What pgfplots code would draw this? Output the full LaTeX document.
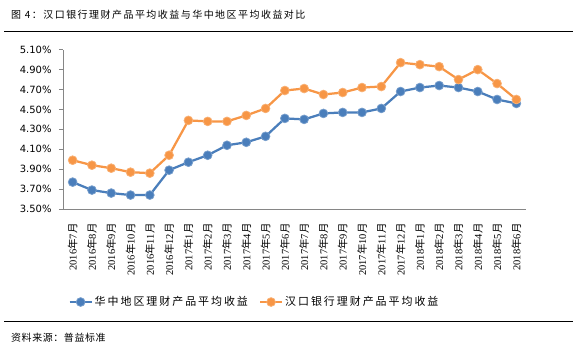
\documentclass[border=0pt]{standalone}
\usepackage{fontspec}
\setmainfont{Liberation Serif}
\newfontfamily\cjk{Noto Sans CJK SC}
\newfontfamily\cjktitle[LetterSpace=15]{Noto Sans CJK SC}
\newfontfamily\cjklegend[LetterSpace=18]{Noto Sans CJK SC}
\newfontfamily\cjksrc[LetterSpace=6]{Noto Sans CJK SC}
\newfontfamily\numfont{DejaVu Sans}
\usepackage{pgfplots}
\pgfplotsset{compat=1.18}
\usepackage{pgfplotstable}
\definecolor{cblue}{HTML}{4A7EBB}
\definecolor{corange}{HTML}{F79646}
\definecolor{axgray}{HTML}{868686}
\newcommand\ym[2]{#1{\cjk 年}#2{\cjk 月}}
\pgfplotstableread{
x hz hk
0  3.77 3.99
1  3.69 3.94
2  3.66 3.91
3  3.64 3.87
4  3.64 3.86
5  3.89 4.04
6  3.97 4.39
7  4.04 4.38
8  4.14 4.38
9  4.17 4.44
10 4.23 4.51
11 4.41 4.69
12 4.40 4.71
13 4.46 4.65
14 4.47 4.67
15 4.47 4.72
16 4.51 4.73
17 4.68 4.97
18 4.72 4.95
19 4.74 4.93
20 4.72 4.80
21 4.68 4.90
22 4.60 4.76
23 4.56 4.60
}\datatable
\begin{document}
\begin{tikzpicture}
\path[use as bounding box] (0bp,0bp) rectangle (577bp,354bp);
\node[anchor=west,inner sep=0] at (11bp,339bp) {\cjktitle\fontsize{10}{12}\selectfont 图 4：汉口银行理财产品平均收益与华中地区平均收益对比};
\draw[line width=1bp] (4bp,322.5bp) -- (573bp,322.5bp);
\draw[line width=1bp] (4bp,32bp) -- (573bp,32bp);
\node[anchor=west,inner sep=0] at (11bp,16bp) {\cjksrc\fontsize{10}{12}\selectfont 资料来源：普益标准};
\begin{axis}[
  at={(63bp,145bp)}, anchor=south west,
  scale only axis, width=463bp, height=159.3bp,
  xmin=-0.5, xmax=23.5, ymin=3.5, ymax=5.1,
  clip=false,
  axis x line*=bottom, axis y line*=left,
  axis line style={axgray, line width=0.75bp, -},
  tick align=outside,
  major tick length=4bp,
  tick style={axgray, line width=0.75bp},
  /pgf/number format/assume math mode=true,
  ytick={3.5,3.7,3.9,4.1,4.3,4.5,4.7,4.9,5.1},
  yticklabel={\pgfmathprintnumber[fixed,fixed zerofill,precision=2]{\tick}\%},
  yticklabel style={font=\numfont\fontsize{10}{12}\selectfont, xshift=-4bp},
  xtick={0,...,23},
  xtick style={draw=none},
  xticklabels={\ym{2016}{7},\ym{2016}{8},\ym{2016}{9},\ym{2016}{10},\ym{2016}{11},\ym{2016}{12},
    \ym{2017}{1},\ym{2017}{2},\ym{2017}{3},\ym{2017}{4},\ym{2017}{5},\ym{2017}{6},
    \ym{2017}{7},\ym{2017}{8},\ym{2017}{9},\ym{2017}{10},\ym{2017}{11},\ym{2017}{12},
    \ym{2018}{1},\ym{2018}{2},\ym{2018}{3},\ym{2018}{4},\ym{2018}{5},\ym{2018}{6}},
  xticklabel style={rotate=90, anchor=east, font=\fontsize{10.5}{12}\selectfont, xshift=-7bp},
  extra x ticks={-0.5,0.5,...,23.5},
  extra x tick labels={},
  extra x tick style={tick style={draw=axgray, line width=0.75bp}},
  legend columns=2,
  legend style={at={(0.005,-0.584)}, anchor=west, draw=none, fill=none,
    font=\cjklegend\fontsize{11}{13}\selectfont,
    /tikz/every even column/.append style={column sep=9bp}},
  legend image code/.code={\draw[mark repeat=2,mark phase=2] plot coordinates {(0bp,0bp)(11bp,0bp)(22bp,0bp)};},
]
\addplot[cblue, line width=2.25bp, mark=*, mark size=4.4bp, mark options={fill=cblue, draw=cblue!75!white, line width=0.75bp}] table[x=x,y=hz]{\datatable};
\addlegendentry{华中地区理财产品平均收益}
\addplot[corange, line width=2.25bp, mark=*, mark size=4.4bp, mark options={fill=corange, draw=corange!75!white, line width=0.75bp}] table[x=x,y=hk]{\datatable};
\addlegendentry{汉口银行理财产品平均收益}
\end{axis}
\end{tikzpicture}
\end{document}
